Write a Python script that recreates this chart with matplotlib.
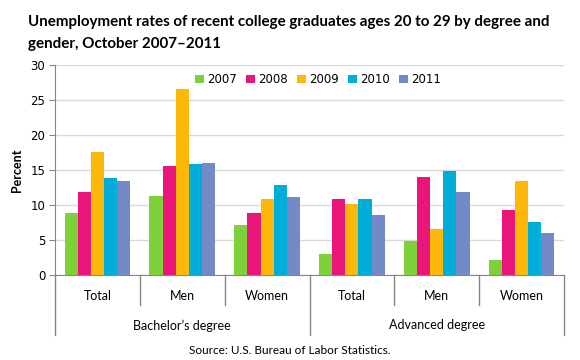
import numpy as np
import matplotlib.pyplot as plt

# 数据
years = ["2007", "2008", "2009", "2010", "2011"]
genders = ["Total", "Men", "Women", "Total", "Men", "Women"]
degrees = ["Bachelor\u2019s degree", "Advanced degree"]
rate_2007 = [8.9, 11.3, 7.2, 3.0, 4.9, 2.2]
rate_2008 = [11.9, 15.6, 8.9, 10.9, 14.0, 9.3]
rate_2009 = [17.6, 26.6, 10.9, 10.2, 6.6, 13.5]
rate_2010 = [13.9, 15.9, 12.8, 10.8, 14.9, 7.6]
rate_2011 = [13.5, 16.0, 11.2, 8.6, 11.9, 6.0]
series = [rate_2007, rate_2008, rate_2009, rate_2010, rate_2011]
colors = ["#7fd13b", "#ea157a", "#feb80a", "#00add8", "#748ac6"]

txt_font = ["Lato", "DejaVu Sans"]
num_font = ["DejaVu Sans"]

fig = plt.figure(figsize=(5.8, 3.6), dpi=100)
ax = fig.add_axes([55 / 580, 85 / 360, 509 / 580, 210 / 360])

x = np.arange(len(genders)) + 0.5
w = 0.155
for i, (vals, c) in enumerate(zip(series, colors)):
    ax.bar(x + (i - 2) * w, vals, width=w, color=c, label=years[i], zorder=3)

ax.set_xlim(0, 6)
ax.set_ylim(0, 30)
ax.set_yticks(range(0, 31, 5))
ax.yaxis.grid(True, color="#d9d9d9", linewidth=1, zorder=0)
for s in ["top", "right"]:
    ax.spines[s].set_visible(False)
ax.spines["left"].set_color("#868686")
ax.spines["bottom"].set_color("#868686")
ax.tick_params(axis="y", length=4, color="#868686", labelsize=8.5, pad=3)
for lab in ax.get_yticklabels():
    lab.set_family(num_font)
ax.set_xticks([])

# 分类标签和分隔线
tr = ax.get_xaxis_transform()
for b in range(7):
    low = -0.285 if b in (0, 3, 6) else -0.145
    ax.plot([b, b], [0, low], transform=tr, color="#868686", lw=1, clip_on=False)
for xi, g in zip(x, genders):
    ax.text(xi, -0.10, g, transform=tr, ha="center", va="center",
            fontsize=9, family=txt_font)
for j, d in enumerate(degrees):
    ax.text(1.5 + 3 * j, -0.24, d, transform=tr, ha="center", va="center",
            fontsize=9, family=txt_font)

ax.set_ylabel("Percent", fontsize=9, fontweight="bold", family=txt_font, labelpad=5)

leg = ax.legend(loc="center", bbox_to_anchor=(0.517, 0.93), ncol=5, frameon=False,
                handlelength=0.75, handleheight=0.75, handletextpad=0.25,
                columnspacing=0.8, prop={"family": num_font, "size": 8.5})

fig.text(28 / 580, 1 - 22 / 360,
         "Unemployment rates of recent college graduates ages 20 to 29 by degree and",
         fontsize=10.9, fontweight="bold", family=txt_font, va="center")
fig.text(28 / 580, 1 - 44 / 360, "gender, October 2007\u20132011",
         fontsize=10.9, fontweight="bold", family=txt_font, va="center")
fig.text(0.5, 1 - 351 / 360, "Source: U.S. Bureau of Labor Statistics.",
         fontsize=8.5, family=txt_font, ha="center", va="center")

plt.savefig("out.png", dpi=100)
